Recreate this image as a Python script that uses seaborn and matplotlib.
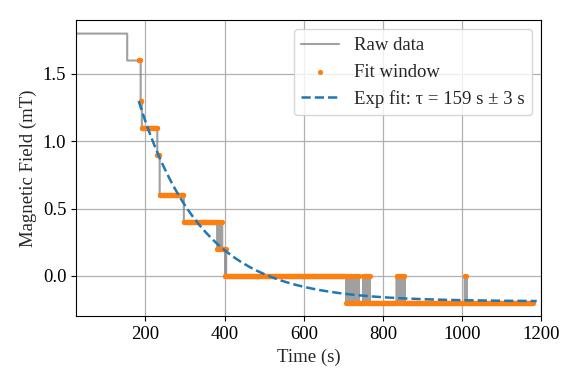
import numpy as np
import pandas as pd
import seaborn as sns
import matplotlib
matplotlib.use("Agg")
import matplotlib.pyplot as plt

# raw field trace, as steps: start time (s) and level (mT)
step_times = [25, 154, 188, 191, 230, 236, 297, 381, 384, 388, 391, 394, 401, 403, 404, 706]
step_levels = [1.8, 1.6, 1.3, 1.1, 0.9, 0.6, 0.4, 0.2, 0.4, 0.2, 0.4, 0.2, 0.0, 0.2, 0.0, -0.2]
t_end = 1180

# stretches where the sensor flickers between two levels (start, end, high, low)
flicker_blocks = [
    (706, 722, 0.0, -0.2),
    (726, 739, 0.0, -0.2),
    (750, 768, 0.0, -0.2),
    (834, 855, 0.0, -0.2),
    (1005, 1011, 0.0, -0.2),
]

# fit window and exponential fit result
fit_start, fit_stop = 183, 1178
tau, tau_err = 159, 3
amp, offset, t0 = 1.47, -0.19, 185
fit_curve_stop = 1188

# build the sampled trace (1 s sampling)
t = np.arange(step_times[0], t_end + 1)
idx = np.searchsorted(step_times, t, side="right") - 1
field = np.array(step_levels)[idx]
for start, stop, hi, lo in flicker_blocks:
    m = (t >= start) & (t < stop)
    field[m] = np.where(t[m] % 2 == 0, hi, lo)

raw = pd.DataFrame({"time": t, "field": field})
window = raw[(raw.time >= fit_start) & (raw.time <= fit_stop)]

t_fit = np.linspace(fit_start, fit_curve_stop, 400)
y_fit = amp * np.exp(-(t_fit - t0) / tau) + offset

sns.set_style("ticks")
plt.rcParams["font.family"] = ["Liberation Serif", "DejaVu Serif"]
fs = 13.5

fig, ax = plt.subplots(figsize=(5.81, 3.87), dpi=100)
fig.subplots_adjust(left=0.131, right=0.932, top=0.948, bottom=0.183)

sns.lineplot(data=raw, x="time", y="field", ax=ax, color="gray", alpha=0.75,
             lw=1.5, estimator=None, drawstyle="steps-post", label="Raw data")
sns.scatterplot(data=window, x="time", y="field", ax=ax, color="C1", s=14,
                linewidth=0, label="Fit window", zorder=3)
sns.lineplot(x=t_fit, y=y_fit, ax=ax, color="C0", lw=1.8, linestyle="--",
             label=f"Exp fit: τ = {tau} s ± {tau_err} s", zorder=4)

ax.set_xlim(25, 1200)
ax.set_ylim(-0.3, 1.9)
ax.set_xticks([200, 400, 600, 800, 1000, 1200])
ax.set_yticks([0.0, 0.5, 1.0, 1.5])
ax.grid(True, color="#b0b0b0", lw=0.9)
ax.set_axisbelow(True)
for s in ax.spines.values():
    s.set_color("black")
    s.set_linewidth(0.8)
ax.tick_params(colors="black", labelsize=fs)
ax.set_xlabel("Time (s)", fontsize=fs)
ax.set_ylabel("Magnetic Field (mT)", fontsize=fs)
ax.legend(loc="upper right", fontsize=fs, framealpha=0.8)

fig.savefig("out.png", dpi=100)
